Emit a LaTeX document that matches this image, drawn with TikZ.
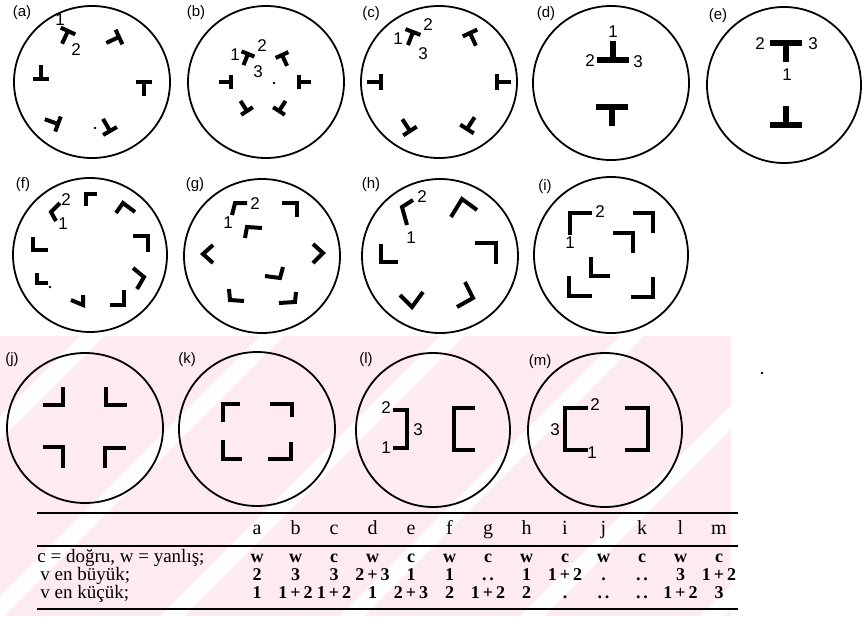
\documentclass[tikz,border=0pt]{standalone}
\usepackage{fontspec}
\setmainfont{Liberation Serif}
\newfontfamily\labelfont{Liberation Sans}
\definecolor{wmpink}{RGB}{253,235,240}

\begin{document}
\begin{tikzpicture}[x=0.5pt, y=-0.5pt,
    circ/.style={line width=0.9pt},
    arm/.style={line width=2pt},
    tag/.style={font=\labelfont\fontsize{7.5}{8}\selectfont, inner sep=0pt},
    num/.style={font=\labelfont\fontsize{8.5}{9}\selectfont, inner sep=0pt},
    cell/.style={font=\fontsize{9}{10}\selectfont\bfseries, inner sep=0pt, anchor=base},
    rowlabel/.style={font=\fontsize{9.5}{10}\selectfont, inner sep=0pt, anchor=base west},
    rule/.style={line width=1.1pt},
    tee/.pic={\draw[arm] (-8,0) -- (8,0) (0,0) -- (0,14);},
    smalltee/.pic={\draw[arm] (-7,0) -- (7,0) (0,0) -- (0,12);},
    bigtee/.pic={\draw[line width=2.8pt] (-16,0) -- (16,0) (0,0) -- (0,19);}
]
\useasboundingbox (0,0) rectangle (862,616);

% watermark
\begin{scope}
\clip (0,336) rectangle (731,616);
\fill[wmpink] (0,336) rectangle (731,616);
\foreach \s in {-200,-20,160,340,520,700}
  \fill[white] (\s,616) -- (\s+24,616) -- (\s+304,336) -- (\s+280,336) -- cycle;
\end{scope}

% circles
\draw[circ] (92,82) ellipse (78 and 76);
\draw[circ] (266,82) ellipse (78 and 76);
\draw[circ] (439,82) ellipse (78 and 76);
\draw[circ] (611,83) ellipse (78 and 77);
\draw[circ] (784,85) ellipse (77 and 78);
\draw[circ] (90,255) ellipse (77 and 77);
\draw[circ] (262,256) ellipse (78 and 77);
\draw[circ] (440,256) ellipse (78 and 77);
\draw[circ] (611,255) ellipse (77 and 78);
\draw[circ] (85,428) ellipse (78 and 75);
\draw[circ] (257,429) ellipse (78 and 77);
\draw[circ] (433,430) ellipse (77 and 77);
\draw[circ] (605,430) ellipse (77 and 77);

% panel tags
\node[tag] (ta) at (22,13) {(a)};
\node[tag] (tb) at (196,13) {(b)};
\node[tag] (tc) at (371,14) {(c)};
\node[tag] (td) at (546,14) {(d)};
\node[tag] (te) at (718,16) {(e)};
\node[tag] (tf) at (23,185) {(f)};
\node[tag] (tg) at (195,185) {(g)};
\node[tag] (th) at (371,185) {(h)};
\node[tag] (ti) at (545,187) {(i)};
\node[tag] (tj) at (12,360) {(j)};
\node[tag] (tk) at (187,360) {(k)};
\node[tag] (tl) at (366,360) {(l)};
\node[tag] (tm) at (540,362) {(m)};

% (a)
\pic[rotate=-25] at (68,31) {tee};
\pic[rotate=-65] at (119,37) {tee};
\pic[rotate=180] at (41,79) {tee};
\pic at (144,82) {tee};
\pic[rotate=-110] at (58,124) {tee};
\pic[rotate=-150] at (110,131) {tee};
\fill (95,128) circle (1.3);
\node[num] (a1) at (60,20) {1};
\node[num] (a2) at (76,50) {2};

% (b)
\pic[rotate=-22] at (248,54) {smalltee};
\pic[rotate=25] at (282,55) {smalltee};
\pic[rotate=-90] at (231,82) {smalltee};
\pic[rotate=90] at (299,82) {smalltee};
\pic[rotate=-147] at (247,111) {smalltee};
\pic[rotate=147] at (279,111) {smalltee};
\fill (274,83) circle (1.3);
\node[num] (b1) at (235,55) {1};
\node[num] (b2) at (262,46) {2};
\node[num] (b3) at (258,72) {3};

% (c)
\pic[rotate=-21] at (413,32) {tee};
\pic[rotate=25] at (470,33) {tee};
\pic[rotate=-90] at (381,82) {tee};
\pic[rotate=90] at (497,82) {tee};
\pic[rotate=-147] at (410,131) {tee};
\pic[rotate=147] at (467,129) {tee};
\node[num] (c1) at (398,39) {1};
\node[num] (c2) at (428,25) {2};
\node[num] (c3) at (423,54) {3};

% (d)
\pic[rotate=180] at (613,60) {bigtee};
\pic at (612,107) {bigtee};
\node[num] (d1) at (613,32) {1};
\node[num] (d2) at (590,61) {2};
\node[num] (d3) at (638,62) {3};

% (e)
\pic at (786,43) {bigtee};
\pic[rotate=180] at (786,125) {bigtee};
\node[num] (e2) at (760,44) {2};
\node[num] (e3) at (813,44) {3};
\node[num] (e1) at (787,75) {1};

% (f)
\draw[arm] (60,203) -- (51,212) -- (56,221);
\draw[arm] (97,194) -- (86,194) -- (86,206);
\draw[arm] (116,213) -- (123,203) -- (135,212);
\draw[arm] (133,236) -- (148,236) -- (148,252);
\draw[arm] (133,268) -- (144,277) -- (137,289);
\draw[arm] (110,305) -- (124,305) -- (124,290);
\draw[arm] (71,300) -- (83,305) -- (83,295);
\draw[arm] (37,273) -- (37,283) -- (48,283);
\draw[arm] (33,237) -- (33,250) -- (48,250);
\fill (50,287) circle (1.3);
\node[num] (f2) at (66,200) {2};
\node[num] (f1) at (63,224) {1};

% (g)
\draw[arm] (247,203) -- (235,203) -- (232,215);
\draw[arm] (282,203) -- (297,203) -- (297,217);
\draw[arm] (262,228) -- (247,227) -- (245,238);
\draw[arm] (213,245) -- (203,254) -- (213,263);
\draw[arm] (313,244) -- (323,253) -- (313,263);
\draw[arm] (265,276) -- (280,278) -- (283,267);
\draw[arm] (229,289) -- (230,300) -- (244,301);
\draw[arm] (279,303) -- (295,302) -- (296,292);
\node[num] (g2) at (255,204) {2};
\node[num] (g1) at (228,223) {1};

% (h)
\draw[arm] (413,200) -- (402,207) -- (407,225);
\draw[arm] (451,217) -- (462,199) -- (477,210);
\draw[arm] (475,243) -- (496,243) -- (496,264);
\draw[arm] (465,282) -- (473,298) -- (457,307);
\draw[arm] (400,295) -- (412,307) -- (423,292);
\draw[arm] (381,244) -- (381,262) -- (398,262);
\node[num] (h2) at (422,197) {2};
\node[num] (h1) at (411,238) {1};

% (i)
\draw[arm] (592,213) -- (570,213) -- (570,235);
\draw[arm] (633,213) -- (653,213) -- (653,233);
\draw[arm] (613,233) -- (633,233) -- (633,253);
\draw[arm] (591,257) -- (591,276) -- (610,276);
\draw[arm] (569,276) -- (569,296) -- (592,296);
\draw[arm] (653,277) -- (653,297) -- (631,297);
\node[num] (i2) at (600,212) {2};
\node[num] (i1) at (570,243) {1};

% (j)
\draw[arm] (43,405) -- (63,405) -- (63,387);
\draw[arm] (106,387) -- (106,405) -- (127,405);
\draw[arm] (43,447) -- (63,447) -- (63,468);
\draw[arm] (126,448) -- (105,448) -- (105,468);

% (k)
\draw[arm] (240,404) -- (223,404) -- (223,422);
\draw[arm] (270,404) -- (292,404) -- (292,417);
\draw[arm] (223,440) -- (223,459) -- (242,459);
\draw[arm] (291,442) -- (291,459) -- (268,459);

% (l)
\draw[arm] (393,410) -- (407,410) -- (407,448) -- (393,448);
\draw[arm] (475,408) -- (454,408) -- (454,450) -- (475,450);
\node[num] (l2) at (386,408) {2};
\node[num] (l1) at (386,448) {1};
\node[num] (l3) at (418,430) {3};

% (m)
\draw[arm] (588,408) -- (565,408) -- (565,450) -- (588,450);
\draw[arm] (625,408) -- (648,408) -- (648,450) -- (625,450);
\node[num] (m2) at (595,405) {2};
\node[num] (m1) at (592,453) {1};
\node[num] (m3) at (555,430) {3};
\fill (762,373) circle (1.3);

% table
\draw[rule] (37,513) -- (738,513);
\draw[rule] (37,546) -- (738,546);
\draw[rule] (37,609) -- (738,609);
\foreach \l [count=\k from 0] in {a,b,c,d,e,f,g,h,i,j,k,l,m}
  \node[cell, font=\fontsize{10}{11}\selectfont] (h\l) at (257+38.5*\k,534) {\l};
\node[rowlabel] (r1) at (37,562) {c = doğru, w = yanlış;};
\node[rowlabel] (r2) at (40,580) {v en büyük;};
\node[rowlabel] (r3) at (40,598) {v en küçük;};
\foreach \v [count=\k from 0] in {w,w,c,w,c,w,c,w,c,w,c,w,c}
  \node[cell] (p\k) at (257+38.5*\k,562) {\v};
\foreach \v [count=\k from 0] in {2,3,3,2\,+\,3,1,1,.\,.,1,1\,+\,2,.,.\,.,3,1\,+\,2}
  \node[cell] (q\k) at (257+38.5*\k,580) {\v};
\foreach \v [count=\k from 0] in {1,1\,+\,2,1\,+\,2,1,2\,+\,3,2,1\,+\,2,2,.,.\,.,.\,.,1\,+\,2,3}
  \node[cell] (s\k) at (257+38.5*\k,598) {\v};
\end{tikzpicture}
\end{document}
